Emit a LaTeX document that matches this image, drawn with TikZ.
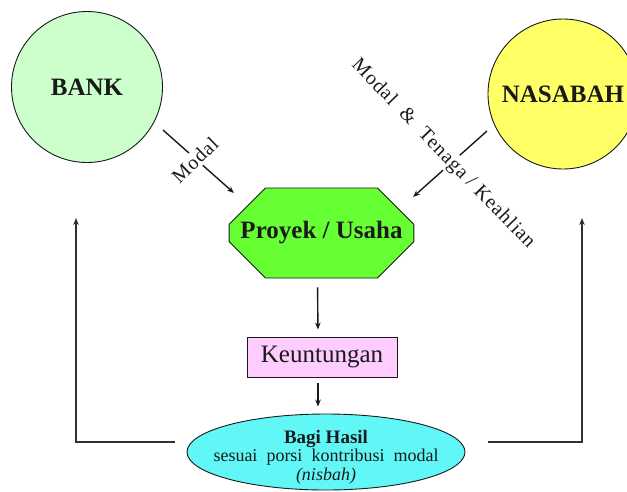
\documentclass[tikz,border=0pt]{standalone}
\usepackage{fontspec}
\setmainfont{Liberation Serif}
\newfontfamily\spacedserif[LetterSpace=5]{Liberation Serif}
\usetikzlibrary{shapes.geometric, shapes.misc, arrows.meta}

\definecolor{bankfill}{HTML}{CCFFCC}
\definecolor{nasabahfill}{HTML}{FFFF66}
\definecolor{proyekfill}{HTML}{66FF33}
\definecolor{untungfill}{HTML}{FFCCFF}
\definecolor{hasilfill}{HTML}{62F7F7}
\definecolor{ink}{HTML}{1A1A1A}

\begin{document}
\begin{tikzpicture}[x=1pt, y=-1pt,
  outline/.style={draw=ink, line width=0.9pt},
  party/.style={circle, outline, inner sep=0pt, minimum size=151pt,
    font=\fontsize{25}{30}\selectfont\bfseries, text=ink},
  flow/.style={-{Stealth[length=7pt, width=5.5pt]}, line width=1.4pt, draw=ink},
  loopback/.style={-{Stealth[length=7pt, width=5.5pt]}, line width=1.8pt, draw=ink!90},
  tag/.style={fill=white, inner sep=2pt, text=ink,
    font=\spacedserif\fontsize{20}{24}\selectfont}
]
\clip (0,0) rectangle (627,491);
\fill[white] (0,0) rectangle (627,491);

% the two parties
\node[party, fill=bankfill] (bank) at (87,87) {BANK};
\node[party, fill=nasabahfill, minimum size=150pt] (nasabah) at (563,94) {NASABAH};

% project, profit and profit sharing
\node[chamfered rectangle, chamfered rectangle xsep=25pt, chamfered rectangle ysep=25pt,
  outline, fill=proyekfill, inner sep=0pt, minimum width=177pt, minimum height=90pt,
  font=\fontsize{25}{30}\selectfont\bfseries, text=ink]
  (proyek) at (321.5,233) {Proyek / Usaha};
\node[rectangle, outline, fill=untungfill, minimum width=150pt, minimum height=40pt,
  inner sep=0pt, font=\fontsize{25}{30}\selectfont, text=ink]
  (untung) at (322,357) {Keuntungan};
\node[ellipse, outline, fill=hasilfill, minimum width=278pt, minimum height=76pt,
  inner sep=0pt] (hasil) at (326,452) {};
\node[align=center, inner sep=0pt, text=ink, anchor=base,
  font=\fontsize{18}{18.5}\selectfont] (hasiltext) at (326,480)
  {{\fontsize{19}{18.5}\selectfont\bfseries Bagi Hasil}\\
   sesuai\ \ porsi\ \ kontribusi\ \ modal\\
   {\itshape (nisbah)}};

% contributions into the project
\coordinate (bankout) at (163,130);
\coordinate (proyekinL) at (234,193);
\coordinate (nasout) at (487,131);
\coordinate (proyekinR) at (413,197);
\draw[flow] (bankout) -- (proyekinL);
\draw[flow] (nasout) -- (proyekinR);
\node[tag, rotate=44] (modal) at (195,160) {Modal};
\node[tag, rotate=-46] (modaltenaga) at (443,154) {Modal\ \ \&\ \ Tenaga\ /\ Keahlian};

% project -> profit -> sharing
\draw[flow, shorten <=9pt, shorten >=7pt]
  ([xshift=-4pt]proyek.south) -- ([xshift=-4pt]untung.north);
\draw[flow, shorten <=6pt, shorten >=7pt]
  ([xshift=-4pt]untung.south) -- ([xshift=-8pt]hasil.north);

% shares returned to each party
\coordinate (leftfoot) at (175,442);
\coordinate (leftcorner) at (76,442);
\coordinate (lefttop) at (76,218);
\coordinate (rightfoot) at (488,442);
\coordinate (rightcorner) at (582,442);
\coordinate (righttop) at (582,218);
\draw[loopback] (leftfoot) -- (leftcorner) -- (lefttop);
\draw[loopback] (rightfoot) -- (rightcorner) -- (righttop);
\end{tikzpicture}
\end{document}
